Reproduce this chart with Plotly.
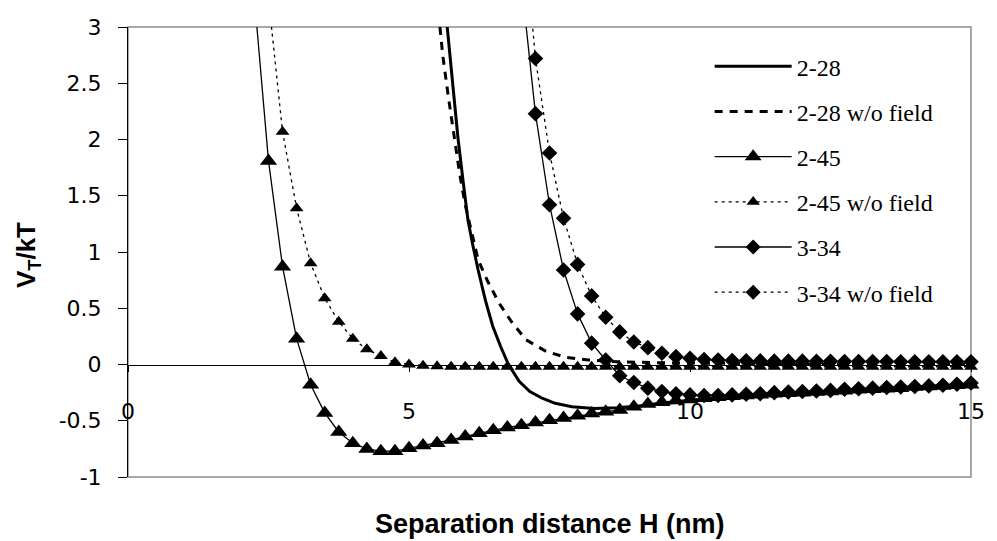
import plotly.graph_objects as go

# ---------------- data ----------------
# 2-28 (continuous curves, no markers)
h_228 = [5.68, 5.78, 5.87, 5.96, 6.05, 6.14, 6.23, 6.36, 6.49, 6.63, 6.77, 6.96, 7.15, 7.37,
         7.6, 7.9, 8.3, 8.7, 9.2, 10, 11, 12, 13, 14, 15]
v_228 = [3.0, 2.47, 2.02, 1.64, 1.28, 1.05, 0.84, 0.57, 0.34, 0.16, 0.0, -0.15, -0.24, -0.30,
         -0.345, -0.375, -0.39, -0.385, -0.365, -0.325, -0.285, -0.255, -0.23, -0.205, -0.185]

h_228_nf = [5.55, 5.6, 5.7, 5.8, 5.9, 6.0, 6.1, 6.23, 6.4, 6.61, 6.81, 7.08, 7.43, 7.78, 8.19,
            8.7, 9.5, 10.5, 12, 13.5, 15]
v_228_nf = [3.0, 2.75, 2.38, 2.02, 1.7, 1.42, 1.2, 0.93, 0.74, 0.54, 0.39, 0.22, 0.12, 0.064, 0.04,
            0.025, 0.015, 0.01, 0.005, 0.002, 0.0]

# 2-45 (step 0.25 nm)
h_245 = [2.25 + 0.25 * i for i in range(52)]
v_245 = [3.25, 1.81, 0.87, 0.23, -0.18, -0.43, -0.60, -0.70, -0.75, -0.77, -0.77, -0.745,
         -0.72, -0.70, -0.67, -0.64, -0.61, -0.585, -0.56, -0.54, -0.515, -0.495, -0.475,
         -0.455, -0.435, -0.42, -0.405, -0.375, -0.35, -0.335, -0.32, -0.31, -0.30, -0.29,
         -0.283, -0.275, -0.268, -0.26, -0.255, -0.25, -0.245, -0.24, -0.233, -0.225,
         -0.22, -0.215, -0.21, -0.2, -0.195, -0.19, -0.185, -0.18]

h_245_nf = [2.5 + 0.25 * i for i in range(51)]
v_245_nf = [3.25, 2.07, 1.39, 0.90, 0.59, 0.38, 0.23, 0.135, 0.075, 0.02, 0.0, -0.01, -0.015] + \
           [-0.02] * 38

# 3-34 (step 0.25 nm)
h_334 = [7.0 + 0.25 * i for i in range(33)]
v_334 = [3.4, 2.23, 1.42, 0.84, 0.45, 0.19, 0.04, -0.10, -0.16, -0.21, -0.24, -0.26, -0.27,
         -0.275, -0.275, -0.27, -0.265, -0.26, -0.25, -0.245, -0.24, -0.235, -0.23, -0.22,
         -0.215, -0.21, -0.205, -0.2, -0.195, -0.19, -0.185, -0.175, -0.165]

h_334_nf = [7.0 + 0.25 * i for i in range(33)]
v_334_nf = [4.1, 2.72, 1.88, 1.30, 0.89, 0.61, 0.42, 0.29, 0.20, 0.15, 0.10, 0.07, 0.055,
            0.045, 0.04, 0.035, 0.033, 0.032, 0.03, 0.03, 0.03, 0.028, 0.028, 0.027, 0.027,
            0.026, 0.026, 0.025, 0.025, 0.025, 0.025, 0.025, 0.025]

x_ticks = [0, 5, 10, 15]
y_ticks = [-1, -0.5, 0, 0.5, 1, 1.5, 2, 2.5, 3]
y_ticktext = ["-1", "-0.5", "0", "0.5", "1", "1.5", "2", "2.5", "3"]

Y_MIN, Y_MAX = -1, 3


def sizes(vals, s):
    # hide markers that fall above the plotted range (the line still runs to them)
    return [s if v <= Y_MAX else 0 for v in vals]


TICK_FONT = dict(family="DejaVu Sans, sans-serif", size=22, color="black")
TITLE_FAMILY = "Liberation Sans, Arial, sans-serif"


def mk(symbol, size_arr):
    return dict(symbol=symbol, size=size_arr, color="black", opacity=1,
                line=dict(width=0))


fig = go.Figure()

fig.add_trace(go.Scatter(x=h_228, y=v_228, mode="lines", name="2-28",
                         line=dict(color="black", width=3), legendgroup="a"))
fig.add_trace(go.Scatter(x=h_228_nf, y=v_228_nf, mode="lines", name="2-28 w/o field",
                         line=dict(color="black", width=3, dash="8px,7px"), legendgroup="b"))
fig.add_trace(go.Scatter(x=h_245, y=v_245, mode="lines+markers", name="2-45",
                         line=dict(color="black", width=1.3),
                         marker=mk("triangle-up", sizes(v_245, 15)),
                         cliponaxis=False, legendgroup="c"))
fig.add_trace(go.Scatter(x=h_245_nf, y=v_245_nf, mode="lines+markers", name="2-45 w/o field",
                         line=dict(color="black", width=1.3, dash="3px,4px"),
                         marker=mk("triangle-up", sizes(v_245_nf, 12)),
                         cliponaxis=False, legendgroup="d"))
fig.add_trace(go.Scatter(x=h_334, y=v_334, mode="lines+markers", name="3-34",
                         line=dict(color="black", width=1.3),
                         marker=mk("diamond", sizes(v_334, 12)),
                         cliponaxis=False, legendgroup="e"))
fig.add_trace(go.Scatter(x=h_334_nf, y=v_334_nf, mode="lines+markers", name="3-34 w/o field",
                         line=dict(color="black", width=1.3, dash="3px,4px"),
                         marker=mk("diamond", sizes(v_334_nf, 12)),
                         cliponaxis=False, legendgroup="f"))

# plot-area frame (grey)
fig.add_shape(type="rect", xref="x domain", yref="y domain", x0=0, x1=1, y0=0, y1=1,
              line=dict(color="#8c8c8c", width=1.5), layer="below")

fig.update_layout(
    width=997, height=541,
    margin=dict(l=128, r=17, t=27, b=64),
    paper_bgcolor="white", plot_bgcolor="white",
    showlegend=True,
    legend=dict(x=0.69, xanchor="left", y=0.962, yanchor="top",
                font=dict(family="Liberation Serif, Times New Roman, serif", size=24, color="black"),
                itemwidth=77, tracegroupgap=11, bgcolor="rgba(0,0,0,0)",
                traceorder="grouped"),
    xaxis=dict(range=[0, 15], tickvals=x_ticks, ticktext=[str(t) for t in x_ticks],
               showgrid=False, zeroline=False, showline=True, linecolor="black", linewidth=1,
               ticks="outside", ticklen=6, tickcolor="black", ticklabelstandoff=21,
               anchor="free", position=0.25, tickfont=TICK_FONT),
    yaxis=dict(range=[Y_MIN, Y_MAX], tickvals=y_ticks, ticktext=y_ticktext,
               showgrid=False, zeroline=False, showline=True, linecolor="black", linewidth=1,
               ticks="outside", ticklen=9, tickcolor="black", ticklabelstandoff=12,
               tickfont=TICK_FONT),
    annotations=[
        dict(text="<b>Separation distance H (nm)</b>", xref="paper", yref="paper",
             x=(554 - 128) / 852, y=-(524 - 477) / 450, xanchor="center", yanchor="middle",
             showarrow=False,
             font=dict(family=TITLE_FAMILY, size=27, color="black")),
        dict(text="<b>V<sub>T</sub>/kT</b>", xref="paper", yref="paper",
             x=-(128 - 27) / 852, y=(477 - 255) / 450, xanchor="center", yanchor="middle",
             showarrow=False, textangle=-90,
             font=dict(family=TITLE_FAMILY, size=26, color="black")),
    ],
)

fig.write_html("out.html")
